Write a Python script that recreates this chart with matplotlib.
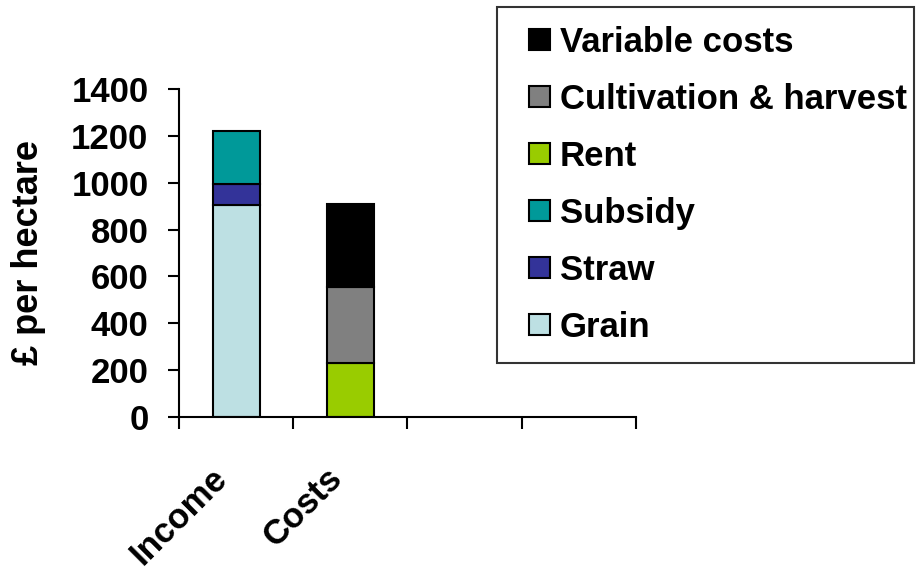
import numpy as np
import matplotlib.pyplot as plt
import matplotlib.transforms as mtransforms
from matplotlib.patches import Rectangle
from matplotlib.legend_handler import HandlerPatch

plt.rcParams['font.family'] = ['Liberation Sans', 'DejaVu Sans']
plt.rcParams['font.weight'] = 'bold'

# stacked components, £ per hectare
categories = ['Income', 'Costs']
grain = [903, 0]
straw = [92, 0]
subsidy = [225, 0]
rent = [0, 232]
cultivation = [0, 322]
variable = [0, 356]

series = [
    ('Grain', grain, '#BDE0E3'),
    ('Straw', straw, '#333399'),
    ('Subsidy', subsidy, '#009999'),
    ('Rent', rent, '#99CC00'),
    ('Cultivation & harvest', cultivation, '#808080'),
    ('Variable costs', variable, '#000000'),
]

FS = 25

fig = plt.figure(figsize=(9.16, 5.77), dpi=100)
ax = fig.add_axes([0.1954, 0.2773, 0.4989, 0.5685])

x = np.arange(len(categories))
bottom = np.zeros(len(categories))
handles = []
for name, vals, col in series:
    vals = np.array(vals, dtype=float)
    mask = vals > 0
    ax.bar(x[mask], vals[mask], 0.41, bottom=bottom[mask], color=col,
           edgecolor='black', linewidth=1.5, label=name)
    handles.append(Rectangle((0, 0), 1, 1, facecolor=col, edgecolor='black', linewidth=1.5))
    bottom += vals

ax.set_xlim(-0.5, 3.5)
ax.set_ylim(0, 1400)
ax.set_yticks(np.arange(0, 1401, 200))
ax.tick_params(axis='y', labelsize=FS, length=8, width=1.5, pad=14)
ax.set_xticks(np.arange(-0.5, 3.6, 1))
ax.set_xticklabels([])
ax.tick_params(axis='x', length=8.5, width=1.5)
for s in ['top', 'right']:
    ax.spines[s].set_visible(False)
for s in ['left', 'bottom']:
    ax.spines[s].set_linewidth(1.5)

trans = mtransforms.blended_transform_factory(ax.transData, ax.transAxes)
for i, lab in enumerate(categories):
    ax.text(i - 0.12, -0.17, lab, transform=trans, rotation=45, ha='right',
            va='center', rotation_mode='anchor', fontsize=FS, fontweight='bold')

ax.set_ylabel('£ per hectare', fontsize=26, fontweight='bold')
ax.yaxis.set_label_coords(-0.29, 0.5)


# small square swatch sitting at the right end of the handle box
def square_swatch(legend, orig_handle, xdescent, ydescent, width, height, fontsize):
    side = 0.6 * fontsize
    return Rectangle((width - side - xdescent, height / 2 - side / 2 - ydescent),
                     side, side)


leg = fig.legend(handles[::-1], [s[0] for s in series][::-1],
                 loc='upper left', bbox_to_anchor=(0.5426, 0.988, 0.455, 0.0),
                 mode='expand', fontsize=FS, frameon=True, fancybox=False,
                 handlelength=0.97, handleheight=0.6, handletextpad=0.29,
                 labelspacing=0.69, borderpad=0.55, borderaxespad=0,
                 handler_map={Rectangle: HandlerPatch(patch_func=square_swatch)})
leg.get_frame().set_edgecolor('black')
leg.get_frame().set_linewidth(1.5)

fig.savefig('out.png', dpi=100)
